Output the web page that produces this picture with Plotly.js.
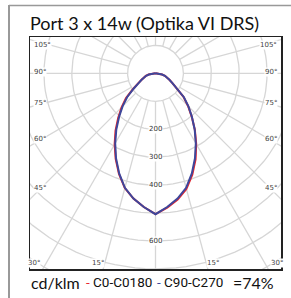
<!DOCTYPE html>
<html><head><meta charset="utf-8">
<script src="https://cdn.plot.ly/plotly-3.0.1.min.js"></script>
<style>html,body{margin:0;padding:0;background:#fff}#chart{width:291px;height:298px}</style>
</head><body><div id="chart"></div>
<script>
// Polar angles (degrees from nadir) and intensities in cd/klm
const gamma = [0,5,10,15,20,25,30,35,40,45,50,55,60,65,70,75,80,85,90];
const c0    = [506,482,458,428,386,340,292,246,202,165,131,95,70,55,45,35,24,12,0];
const c180  = [504,480,455,425,383,338,293,250,208,172,138,99,72,56,46,36,25,12,0];
const c90   = [504,480,455,424,381,335,289,245,203,167,133,96,70,55,45,35,24,12,0];
const c270  = [504,480,455,424,381,335,289,245,203,167,133,96,70,55,45,35,24,12,0];
const ringValues = [100,200,300,400,500,600,700,800];
const ringLabels = [200,300,400,600];
const sideAngles = [105,90,75,60,45];
const bottomAngles = [30,15];
const titleText = 'Port 3 x 14w (Optika VI DRS)';
const unitText = 'cd/klm';
const redName = 'C0-C0180';
const blueName = 'C90-C270';
const effText = '=74%';

const XR = [-450, 450], YR = [-700, 130];
const W = 291, H = 298, M = {l:30, r:10, t:37, b:29};
const PW = W - M.l - M.r, PH = H - M.t - M.b;
const d2r = Math.PI/180;
const pxX = x => M.l + (x - XR[0]) / (XR[1]-XR[0]) * PW;
const pxY = y => M.t + (YR[1] - y) / (YR[1]-YR[0]) * PH;
const paperX = px => (px - M.l) / PW;
const paperY = py => (M.t + PH - py) / PH;

function halfCurve(rs, side){ // side -1 left, +1 right
  const xs = [], ys = [];
  for (let i=0;i<gamma.length;i++){
    const g = gamma[i]*d2r;
    xs.push(side*rs[i]*Math.sin(g)); ys.push(-rs[i]*Math.cos(g));
  }
  return {xs, ys};
}
function fullCurve(left, right){
  const L = halfCurve(left, -1), R = halfCurve(right, 1);
  return {x: L.xs.slice().reverse().concat(R.xs.slice(1)), y: L.ys.slice().reverse().concat(R.ys.slice(1))};
}

const traces = [];
const gridColor = '#d6d6d6';
// rings
const rx = [], ry = [];
ringValues.forEach(r => {
  for (let a=0;a<=360;a+=3){ rx.push(r*Math.sin(a*d2r)); ry.push(-r*Math.cos(a*d2r)); }
  rx.push(null); ry.push(null);
});
traces.push({x:rx, y:ry, mode:'lines', line:{color:gridColor, width:1.3}, hoverinfo:'skip'});
// spokes
const sx = [], sy = [];
for (let a=0;a<360;a+=15){
  sx.push(100*Math.sin(a*d2r), 1200*Math.sin(a*d2r), null);
  sy.push(-100*Math.cos(a*d2r), -1200*Math.cos(a*d2r), null);
}
traces.push({x:sx, y:sy, mode:'lines', line:{color:gridColor, width:1.3}, hoverinfo:'skip'});

const red = fullCurve(c180, c0);
const blue = fullCurve(c270, c90);
traces.push({x:red.x, y:red.y, mode:'lines', line:{color:'#e8262d', width:2}, hoverinfo:'skip'});
traces.push({x:blue.x, y:blue.y, mode:'lines', line:{color:'#3d479c', width:2}, hoverinfo:'skip'});

const annotations = [];
const lblFont = {family:'DejaVu Sans', size:7, color:'#444'};
const cxp = pxX(0), cyp = pxY(0);
// side angle labels
sideAngles.forEach(a => {
  const g = a*d2r;
  const d = cxp - 40;
  const py = cyp + d*Math.cos(g)/Math.sin(g) + (a>90 ? 3 : -1);
  annotations.push({xref:'paper', yref:'paper', x:paperX(33), y:paperY(py), xanchor:'left', yanchor:'middle',
    text:a+'°', showarrow:false, font:lblFont, bgcolor:'#fff', borderpad:0});
  annotations.push({xref:'paper', yref:'paper', x:paperX(W-M.r-3), y:paperY(py), xanchor:'right', yanchor:'middle',
    text:a+'°', showarrow:false, font:lblFont, bgcolor:'#fff', borderpad:0});
});
bottomAngles.forEach(a => {
  const g = a*d2r;
  const py = M.t + PH - 6;
  const dx = (py - cyp)*Math.tan(g);
  const off = a === 30 ? 5 : 0;
  annotations.push({xref:'paper', yref:'paper', x:paperX(cxp - dx - off), y:paperY(py), xanchor:'right', yanchor:'middle',
    text:a+'°', showarrow:false, font:lblFont, bgcolor:'#fff', borderpad:0});
  annotations.push({xref:'paper', yref:'paper', x:paperX(cxp + dx + off), y:paperY(py), xanchor:'left', yanchor:'middle',
    text:a+'°', showarrow:false, font:lblFont, bgcolor:'#fff', borderpad:0});
});
ringLabels.forEach(r => {
  annotations.push({x:0, y:-r, xref:'x', yref:'y', text:String(r), showarrow:false,
    font:{family:'DejaVu Sans', size:7, color:'#333'}, bgcolor:'#fff', borderpad:0});
});
// bottom legend
const legY = paperY(282);
const legFont = {family:'Lato, Noto Sans', size:16, color:'#111'};
const narrow = {family:'Roboto', size:13.5, color:'#111'};
annotations.push({xref:'paper', yref:'paper', x:paperX(29), y:legY, xanchor:'left', yanchor:'middle', text:unitText, showarrow:false, font:legFont});
annotations.push({xref:'paper', yref:'paper', x:paperX(84), y:legY, xanchor:'left', yanchor:'middle',
  text:'<span style="color:#e8262d">-</span> '+redName, showarrow:false, font:narrow});
annotations.push({xref:'paper', yref:'paper', x:paperX(155), y:legY, xanchor:'left', yanchor:'middle',
  text:'<span style="color:#3d479c">-</span> '+blueName, showarrow:false, font:narrow});
annotations.push({xref:'paper', yref:'paper', x:paperX(231), y:legY, xanchor:'left', yanchor:'middle', text:effText, showarrow:false, font:legFont});

const shapes = [
  {type:'line', xref:'paper', yref:'paper', x0:paperX(9), x1:paperX(9), y0:paperY(5), y1:paperY(H+5), line:{color:'#999', width:2}},
  {type:'line', xref:'paper', yref:'paper', x0:paperX(9), x1:paperX(W+5), y0:paperY(5.5), y1:paperY(5.5), line:{color:'#999', width:1.5}}
];

const axis = {showgrid:false, zeroline:false, showticklabels:false, ticks:'', showline:true, mirror:true, linecolor:'#222', linewidth:1.5, fixedrange:true};
const layout = {
  width:W, height:H, margin:M, paper_bgcolor:'#fff', plot_bgcolor:'#fff', showlegend:false,
  title:{text:titleText, x:30/W, xref:'container', xanchor:'left', y:1-24/H, yanchor:'middle',
    font:{family:'Lato, Noto Sans', size:18, color:'#111'}},
  xaxis:Object.assign({range:XR}, axis),
  yaxis:Object.assign({range:YR}, axis),
  annotations, shapes
};
Plotly.newPlot('chart', traces, layout, {staticPlot:true, displayModeBar:false});
</script></body></html>
